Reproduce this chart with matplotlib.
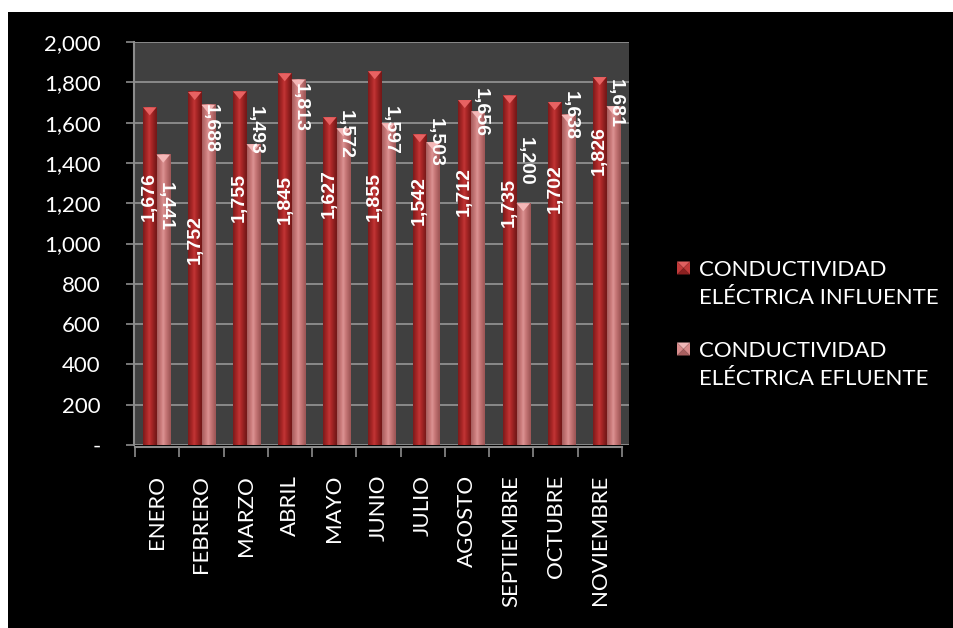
import matplotlib.pyplot as plt
import matplotlib.patches as mpatches
import numpy as np

meses = ['ENERO', 'FEBRERO', 'MARZO', 'ABRIL', 'MAYO', 'JUNIO', 'JULIO',
         'AGOSTO', 'SEPTIEMBRE', 'OCTUBRE', 'NOVIEMBRE']
influente = [1676, 1752, 1755, 1845, 1627, 1855, 1542, 1712, 1735, 1702, 1826]
efluente = [1441, 1688, 1493, 1813, 1572, 1597, 1503, 1656, 1200, 1638, 1681]
serie_inf = 'CONDUCTIVIDAD\nELÉCTRICA INFLUENTE'
serie_ef = 'CONDUCTIVIDAD\nELÉCTRICA EFLUENTE'

# altura (en unidades del eje) donde se centra cada etiqueta de dato
pos_lab_inf = [1235, 1022, 1230, 1220, 1250, 1235, 1215, 1260, 1205, 1274, 1462]
pos_lab_ef = [1185, 1570, 1560, 1674, 1541, 1560, 1500, 1650, 1407, 1635, 1694]

plt.rcParams['font.family'] = ['Lato', 'DejaVu Sans']

W, H = 954, 628
fig = plt.figure(figsize=(W / 100, H / 100), dpi=100, facecolor='white')
# fondo negro del grafico
fig.patches.append(mpatches.Rectangle((8 / W, 0), 1, 1 - 12 / H, transform=fig.transFigure,
                                      facecolor='black', edgecolor='none', zorder=-5))


def fx(px):
    return px / W


def fy(py):
    return 1 - py / H


# pared del fondo (barras, rejilla y eje y)
ax = fig.add_axes([fx(134), fy(445), fx(629) - fx(134), fy(42) - fy(445)])
ax.set_facecolor('#404040')
n = len(meses)
x = np.arange(n)
ancho = 0.3

ax.set_yticks(np.arange(0, 2001, 200))
ax.set_yticklabels(['-'] + ['{:,}'.format(v) for v in range(200, 2001, 200)])
ax.tick_params(axis='y', colors='#8c8c8c', length=6, width=1.2, pad=18,
               labelsize=16, labelcolor='white')
ax.set_xticks([])
ax.grid(axis='y', color='#8a8a8a', linewidth=1.4)
ax.set_axisbelow(True)
for s in ['top', 'right', 'bottom']:
    ax.spines[s].set_visible(False)
ax.spines['left'].set_color('#8c8c8c')
ax.spines['left'].set_linewidth(1.5)


def barra(xc, h, oscuro, medio, claro, tapa):
    # columna con degradado horizontal y tapa de piramide
    x0, x1 = xc - ancho / 2, xc + ancho / 2
    t = np.linspace(0, 1, 40)
    perfil = 1 - np.abs(t - 0.45) * 2
    c0 = np.array(plt.matplotlib.colors.to_rgb(oscuro))
    c1 = np.array(plt.matplotlib.colors.to_rgb(medio))
    c2 = np.array(plt.matplotlib.colors.to_rgb(claro))
    p = np.clip(perfil, 0, 1)[:, None]
    cols = np.where(p < 0.7, c0 + (c1 - c0) * (p / 0.7), c1 + (c2 - c1) * ((p - 0.7) / 0.3))
    ax.imshow(cols[None, :, :], extent=(x0, x1, 0, h), aspect='auto', zorder=2,
              interpolation='bilinear')
    ax.add_patch(mpatches.Polygon([(x0, h), (x1, h), (xc, h - 40)], closed=True,
                                  facecolor=tapa, edgecolor='none', zorder=3))


for i in range(n):
    barra(x[i] - ancho / 2, influente[i], '#761818', '#ac2828', '#c23636', '#e86262')
    barra(x[i] + ancho / 2, efluente[i], '#a05858', '#cc7c7c', '#dc9494', '#f4b8b8')

ax.set_xlim(-0.5, n - 0.5)
ax.set_ylim(0, 2000)

# etiquetas de datos
for i in range(n):
    ax.text(x[i] - ancho / 2, pos_lab_inf[i], '{:,}'.format(influente[i]), rotation=90,
            ha='center', va='center', color='white', fontsize=14, fontweight='bold',
            family='Liberation Sans', zorder=5)
    ax.text(x[i] + ancho / 2 + 0.05, pos_lab_ef[i], '{:,}'.format(efluente[i]), rotation=-90,
            ha='center', va='center', color='white', fontsize=14, fontweight='bold',
            family='Liberation Sans', zorder=5)

# piso con el eje de categorias
axp = fig.add_axes([fx(135), fy(447), fx(622) - fx(135), 0.001])
axp.patch.set_alpha(0)
axp.set_xlim(-0.5, n - 0.5)
axp.set_yticks([])
for s in ['top', 'right', 'left']:
    axp.spines[s].set_visible(False)
axp.spines['bottom'].set_color('#8c8c8c')
axp.spines['bottom'].set_linewidth(1.5)
axp.set_xticks(x)
axp.set_xticklabels(meses, rotation=90, color='white', fontsize=16)
axp.set_xticks(np.arange(-0.5, n, 1), minor=True)
axp.tick_params(axis='x', which='major', length=0, pad=20)
axp.tick_params(axis='x', which='minor', length=7, width=1.2, color='#8c8c8c')


# leyenda
def marcador(px, py, base, borde, luz):
    s = 13
    x0, y0, x1, y1 = fx(px), fy(py + s / 2), fx(px + s), fy(py - s / 2)
    xc, yc = (x0 + x1) / 2, (y0 + y1) / 2
    caras = [([(x0, y1), (x1, y1), (xc, yc)], luz),
             ([(x0, y0), (x1, y0), (xc, yc)], borde),
             ([(x0, y0), (x0, y1), (xc, yc)], base),
             ([(x1, y0), (x1, y1), (xc, yc)], base)]
    for pts, c in caras:
        fig.patches.append(mpatches.Polygon(pts, closed=True, transform=fig.transFigure,
                                            facecolor=c, edgecolor='none', zorder=3))


marcador(677, 268, '#c23a3a', '#8a2020', '#e06060')
marcador(677, 349, '#d98c8c', '#a86060', '#f0b8b8')
fig.text(fx(699), fy(284), serie_inf, color='white', fontsize=16, va='center',
         linespacing=1.45)
fig.text(fx(699), fy(365), serie_ef, color='white', fontsize=16, va='center',
         linespacing=1.45)

fig.savefig('out.png', dpi=100, facecolor=fig.get_facecolor())
